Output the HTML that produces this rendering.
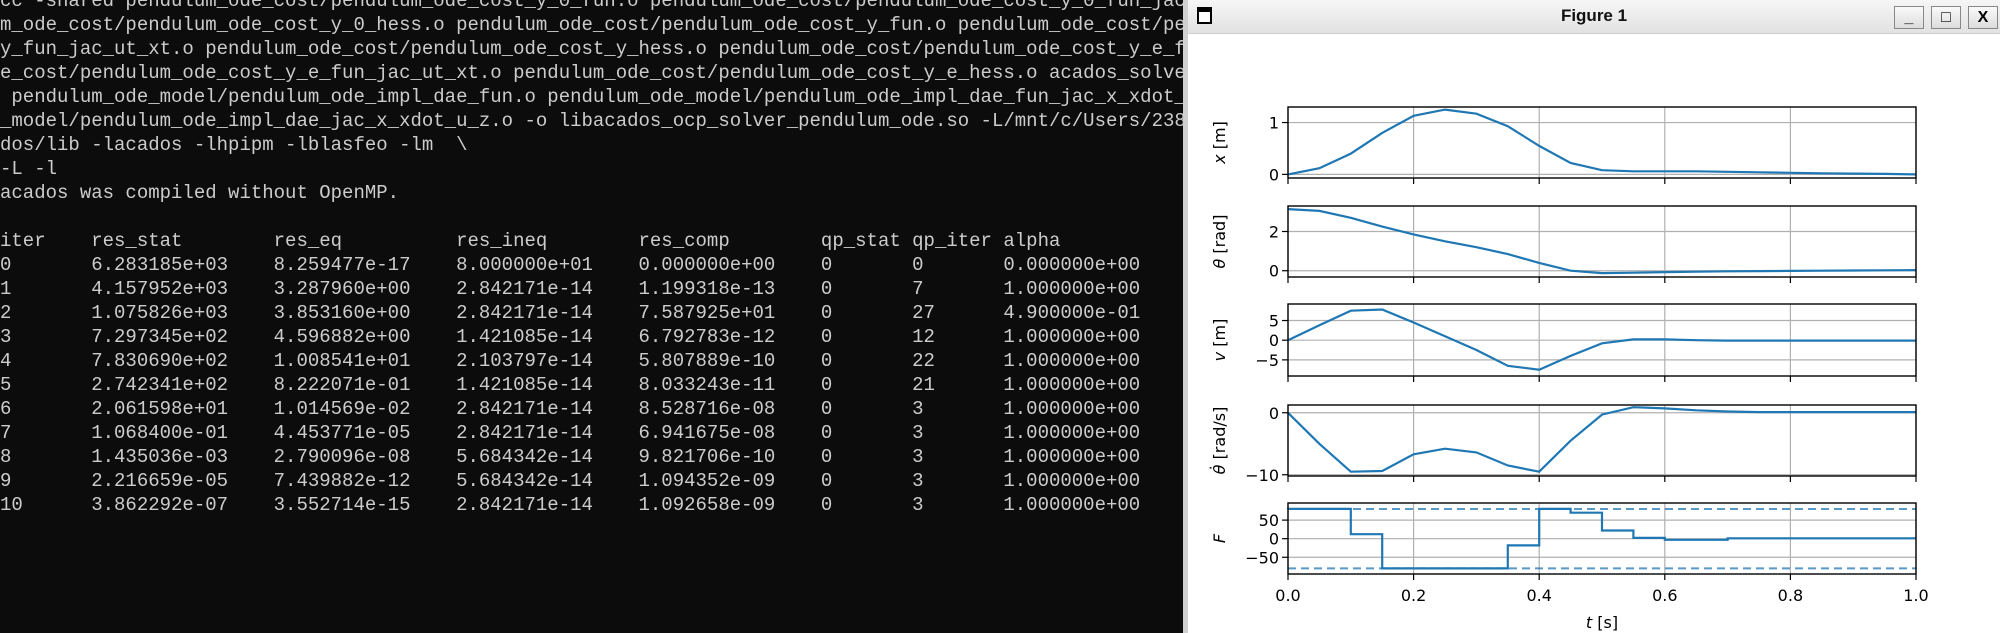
<!DOCTYPE html>
<html><head><meta charset="utf-8"><style>
html,body{margin:0;padding:0;width:2000px;height:633px;overflow:hidden;background:#0c0c0c;position:relative}
#term{position:absolute;left:0;top:-11px;width:1184px;height:640px;overflow:hidden;font-family:"Liberation Mono",monospace;font-size:19px;line-height:24px;color:#cccccc;white-space:pre;margin:0}
#win{position:absolute;left:1183px;top:0;width:817px;height:633px;background:#fff;border-left:5px solid #d0d0d0;box-sizing:border-box}
#titlebar{position:absolute;left:0;top:0;width:100%;height:33px;background:linear-gradient(#f6f6f6,#e2e2e2);border-bottom:1px solid #ccc}
#title{position:absolute;left:0;right:0;top:6px;text-align:center;font:bold 17px "Liberation Sans",sans-serif;color:#111}
.btn{position:absolute;top:6px;width:30px;height:23px;border:1px solid #888;background:linear-gradient(#fafafa,#dcdcdc);box-sizing:border-box;font:bold 16px "Liberation Sans",sans-serif;text-align:center;line-height:21px;color:#000}
svg{position:absolute;left:0;top:0}
</style></head><body>
<pre id="term">cc -shared pendulum_ode_cost/pendulum_ode_cost_y_0_fun.o pendulum_ode_cost/pendulum_ode_cost_y_0_fun_jac
m_ode_cost/pendulum_ode_cost_y_0_hess.o pendulum_ode_cost/pendulum_ode_cost_y_fun.o pendulum_ode_cost/pe
y_fun_jac_ut_xt.o pendulum_ode_cost/pendulum_ode_cost_y_hess.o pendulum_ode_cost/pendulum_ode_cost_y_e_f
e_cost/pendulum_ode_cost_y_e_fun_jac_ut_xt.o pendulum_ode_cost/pendulum_ode_cost_y_e_hess.o acados_solve
 pendulum_ode_model/pendulum_ode_impl_dae_fun.o pendulum_ode_model/pendulum_ode_impl_dae_fun_jac_x_xdot_
_model/pendulum_ode_impl_dae_jac_x_xdot_u_z.o -o libacados_ocp_solver_pendulum_ode.so -L/mnt/c/Users/238
dos/lib -lacados -lhpipm -lblasfeo -lm  \
-L -l
acados was compiled without OpenMP.

iter    res_stat        res_eq          res_ineq        res_comp        qp_stat qp_iter alpha
0       6.283185e+03    8.259477e-17    8.000000e+01    0.000000e+00    0       0       0.000000e+00
1       4.157952e+03    3.287960e+00    2.842171e-14    1.199318e-13    0       7       1.000000e+00
2       1.075826e+03    3.853160e+00    2.842171e-14    7.587925e+01    0       27      4.900000e-01
3       7.297345e+02    4.596882e+00    1.421085e-14    6.792783e-12    0       12      1.000000e+00
4       7.830690e+02    1.008541e+01    2.103797e-14    5.807889e-10    0       22      1.000000e+00
5       2.742341e+02    8.222071e-01    1.421085e-14    8.033243e-11    0       21      1.000000e+00
6       2.061598e+01    1.014569e-02    2.842171e-14    8.528716e-08    0       3       1.000000e+00
7       1.068400e-01    4.453771e-05    2.842171e-14    6.941675e-08    0       3       1.000000e+00
8       1.435036e-03    2.790096e-08    5.684342e-14    9.821706e-10    0       3       1.000000e+00
9       2.216659e-05    7.439882e-12    5.684342e-14    1.094352e-09    0       3       1.000000e+00
10      3.862292e-07    3.552714e-15    2.842171e-14    1.092658e-09    0       3       1.000000e+00
</pre>
<div id="win">
 <div id="titlebar">
  <div style="position:absolute;left:9px;top:7px;width:15px;height:17px;border:2px solid #000;border-top-width:5px;box-sizing:border-box;background:#fff"></div>
  <div id="title">Figure 1</div>
  <div class="btn" style="left:706px">_</div>
  <div class="btn" style="left:743px">□</div>
  <div class="btn" style="left:780px">X</div>
 </div>
</div>
<svg id="chart" width="2000" height="633"></svg>
<script>
const tGrid=[0,0.05,0.1,0.15,0.2,0.25,0.3,0.35,0.4,0.45,0.5,0.55,0.6,0.65,0.7,0.75,0.8,0.85,0.9,0.95,1.0];
const xPos=[0,0.12,0.4,0.8,1.13,1.25,1.17,0.93,0.55,0.22,0.08,0.06,0.06,0.06,0.05,0.04,0.03,0.02,0.015,0.01,0];
const thetaVals=[3.14,3.05,2.7,2.25,1.85,1.5,1.2,0.85,0.4,0.0,-0.12,-0.1,-0.07,-0.05,-0.03,-0.02,-0.01,0,0.01,0.02,0.03];
const vVals=[0,3.8,7.5,7.8,4.5,1,-2.5,-6.5,-7.5,-4,-0.8,0.2,0.2,0,-0.1,-0.1,-0.1,-0.1,-0.1,-0.1,-0.1];
const omegaVals=[0,-5,-9.5,-9.4,-6.7,-5.8,-6.4,-8.5,-9.5,-4.5,-0.3,0.9,0.7,0.4,0.2,0.1,0.1,0.1,0.1,0.1,0.1];
const forceVals=[80,80,12,-80,-80,-80,-80,-18,80,70,22,2,-3,-3,1,1,1,1,1,1];
const forceBound=80;
const xTicks=[0,0.2,0.4,0.6,0.8,1.0];
const xTickLabels=["0.0","0.2","0.4","0.6","0.8","1.0"];

const NS="http://www.w3.org/2000/svg";
const svg=document.getElementById('chart');
const L=1288,R=1916;
const sx=t=>L+(R-L)*t;
function mk(tag,attrs,parent){const e=document.createElementNS(NS,tag);for(const k in attrs)e.setAttribute(k,attrs[k]);(parent||svg).appendChild(e);return e;}
const panels=[
 {name:'x',top:107,bot:178,lo:-0.07,hi:1.3,ticks:[0,1],labels:["0","1"],data:xPos,ylabel:'<tspan font-style="italic">x</tspan> [m]'},
 {name:'theta',top:206,bot:277,lo:-0.32,hi:3.3,ticks:[0,2],labels:["0","2"],data:thetaVals,ylabel:'<tspan font-style="italic">θ</tspan> [rad]'},
 {name:'v',top:304,bot:376,lo:-9.1,hi:9.2,ticks:[-5,0,5],labels:["−5","0","5"],data:vVals,ylabel:'<tspan font-style="italic">v</tspan> [m]'},
 {name:'theta-dot',top:405,bot:476,lo:-10.2,hi:1.25,ticks:[-10,0],labels:["−10","0"],data:omegaVals,ylabel:'<tspan font-style="italic">θ̇</tspan> [rad/s]'},
 {name:'force',top:503,bot:574,lo:-95,hi:96,ticks:[-50,0,50],labels:["−50","0","50"],data:null,ylabel:'<tspan font-style="italic">F</tspan>'}
];
panels.forEach((p,pi)=>{
 const sy=v=>p.bot-(p.bot-p.top)*(v-p.lo)/(p.hi-p.lo);
 const g=mk('g',{});
 
 
 xTicks.forEach(t=>{const l=mk('line',{x1:sx(t),x2:sx(t),y1:p.top,y2:p.bot,stroke:'#b0b0b0','stroke-width':1.2},g);
  
  const tk=mk('line',{x1:sx(t),x2:sx(t),y1:p.bot,y2:p.bot+6,stroke:'#000','stroke-width':1.2},g);
  });
 p.ticks.forEach((v,i)=>{const y=sy(v);
  const l=mk('line',{x1:L,x2:R,y1:y,y2:y,stroke:'#b0b0b0','stroke-width':1.2},g);
  
  const tk=mk('line',{x1:L-6,x2:L,y1:y,y2:y,stroke:'#000','stroke-width':1.2},g);
  
  const tx=mk('text',{x:L-9,y:y+6,'text-anchor':'end','font-family':'DejaVu Sans, sans-serif','font-size':16,fill:'#000'},g);
  tx.textContent=p.labels[i];
  });
 if(p.data){
  const d=p.data.map((v,i)=>(i?'L':'M')+sx(tGrid[i]).toFixed(1)+','+sy(v).toFixed(1)).join('');
  const path=mk('path',{d:d,fill:'none',stroke:'#1f77b4','stroke-width':2.2},g);
  
 } else {
  [forceBound,-forceBound].forEach(b=>{const dl=mk('line',{x1:L,x2:R,y1:sy(b),y2:sy(b),stroke:'#1f77b4','stroke-opacity':0.75,'stroke-width':2,'stroke-dasharray':'8,5'},g);
   });
  let d='M'+sx(tGrid[0])+','+sy(forceVals[0]);
  forceVals.forEach((v,i)=>{d+='L'+sx(tGrid[i]).toFixed(1)+','+sy(v).toFixed(1)+'L'+sx(tGrid[i+1]).toFixed(1)+','+sy(v).toFixed(1);});
  const path=mk('path',{d:d,fill:'none',stroke:'#1f77b4','stroke-width':2.2},g);
  
 }
 const fr=mk('rect',{x:L,y:p.top,width:R-L,height:p.bot-p.top,fill:'none',stroke:'#000','stroke-width':1.4},g);
 
 const cy=(p.top+p.bot)/2;
 const yl=mk('text',{x:0,y:0,transform:`translate(1225,${cy}) rotate(-90)`,'text-anchor':'middle','font-family':'DejaVu Sans, sans-serif','font-size':16,fill:'#000'},g);
 yl.innerHTML=p.ylabel;
 
 if(pi===panels.length-1){
  xTicks.forEach((t,i)=>{const tx=mk('text',{x:sx(t),y:601,'text-anchor':'middle','font-family':'DejaVu Sans, sans-serif','font-size':16,fill:'#000'},g);
   tx.textContent=xTickLabels[i];});
  const xl=mk('text',{x:(L+R)/2,y:628,'text-anchor':'middle','font-family':'DejaVu Sans, sans-serif','font-size':16,fill:'#000'},g);
  xl.innerHTML='<tspan font-style="italic">t</tspan> [s]';
  
 }
});
</script>
</body></html>
